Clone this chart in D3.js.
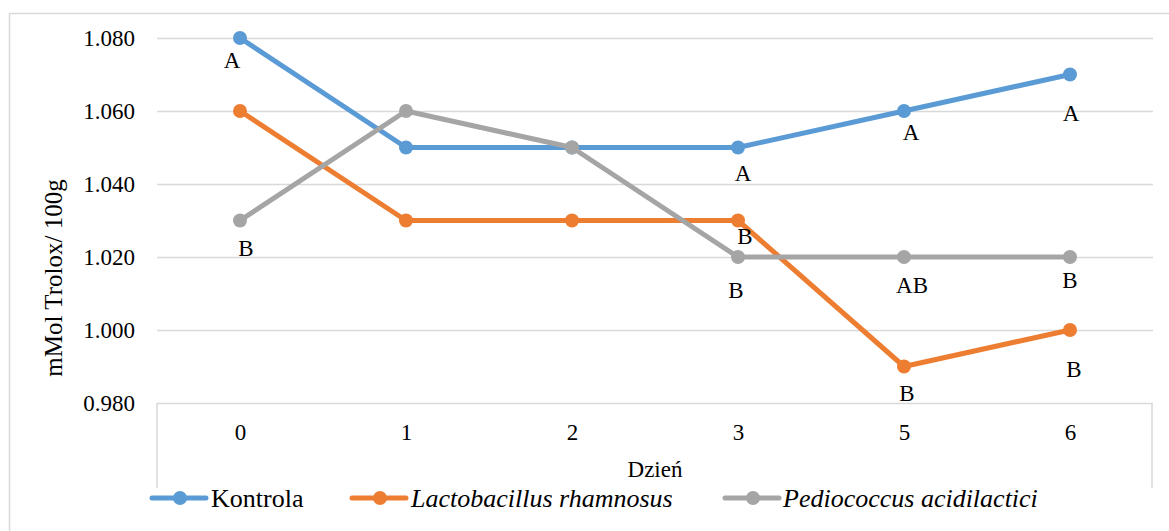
<!DOCTYPE html>
<html>
<head>
<meta charset="utf-8">
<script src="https://cdn.jsdelivr.net/npm/d3@7"></script>
<style>
  html, body { margin: 0; padding: 0; background: #fff; }
  svg { display: block; }
  svg text { font-family: "Liberation Serif", "Times New Roman", Times, serif; fill: #000; }
</style>
</head>
<body>
<svg id="chart" width="1169" height="531"></svg>
<script>
// Days of storage
const days = ["0", "1", "2", "3", "5", "6"];

// Antioxidant capacity, mMol Trolox / 100 g
const kontrola = [1.080, 1.050, 1.050, 1.050, 1.060, 1.070];
const lactobacillus = [1.060, 1.030, 1.030, 1.030, 0.990, 1.000];
const pediococcus = [1.030, 1.060, 1.050, 1.020, 1.020, 1.020];

// Significance letters for each point ("" = no label)
const kontrolaLetters = ["A", "", "", "A", "A", "A"];
const lactobacillusLetters = ["", "", "", "B", "B", "B"];
const pediococcusLetters = ["B", "", "", "B", "AB", "B"];

const seriesNames = ["Kontrola", "Lactobacillus rhamnosus", "Pediococcus acidilactici"];
const yTicks = [0.980, 1.000, 1.020, 1.040, 1.060, 1.080];

// Label nudges (pixels) relative to each marker
const labelNudge = [
  [[-8, 22], null, null, [5, 25], [7, 21], [1, 38]],
  [null, null, null, [7, 15], [3, 26], [4, 39]],
  [[6, 27], null, null, [-2, 33], [8, 28], [0, 23]]
];

const colors = ["#5B9BD5", "#ED7D31", "#A5A5A5"];
const italic = [false, true, true];

const series = [
  { name: seriesNames[0], values: kontrola, letters: kontrolaLetters },
  { name: seriesNames[1], values: lactobacillus, letters: lactobacillusLetters },
  { name: seriesNames[2], values: pediococcus, letters: pediococcusLetters }
];

const svg = d3.select("#chart");
const plot = { left: 157, right: 1153, top: 38, bottom: 403 };
const grid = "#D9D9D9";

// Outer chart frame
svg.append("rect")
  .attr("x", 9.5).attr("y", 13.5)
  .attr("width", 1200).attr("height", 600)
  .attr("fill", "none").attr("stroke", grid).attr("stroke-width", 1.5);

const x = d3.scalePoint().domain(days).range([plot.left, plot.right]).padding(0.5);
const y = d3.scaleLinear().domain([0.98, 1.08]).range([plot.bottom, plot.top]);

// Horizontal gridlines + value labels
const yAxis = svg.append("g")
  .attr("transform", `translate(${plot.left},0)`)
  .call(d3.axisLeft(y).tickValues(yTicks).tickFormat(d3.format(".3f"))
    .tickSize(-(plot.right - plot.left)).tickPadding(22))
  .attr("font-family", null).attr("font-size", null);
yAxis.select(".domain").remove();
yAxis.selectAll(".tick line").attr("stroke", grid).attr("stroke-width", 1.5);
yAxis.selectAll(".tick text").style("font-size", "23px");

// Category box under the plot
svg.append("path")
  .attr("d", `M${plot.left},${plot.bottom}V488M${plot.right - 1},${plot.bottom}V488`)
  .attr("stroke", grid).attr("stroke-width", 1.5).attr("fill", "none");

const xAxis = svg.append("g")
  .attr("transform", `translate(0,${plot.bottom})`)
  .call(d3.axisBottom(x).tickSize(0).tickPadding(21))
  .attr("font-family", null).attr("font-size", null);
xAxis.select(".domain").remove();
xAxis.selectAll(".tick text").style("font-size", "23px");

// Axis titles
svg.append("text")
  .attr("x", 655).attr("y", 477)
  .attr("text-anchor", "middle").style("font-size", "23px")
  .text("Dzień");

svg.append("text")
  .attr("transform", "translate(62,278) rotate(-90)")
  .attr("text-anchor", "middle").style("font-size", "25px")
  .text("mMol Trolox/ 100g");

// Lines, markers and letters
const line = d3.line().x((d, i) => x(days[i])).y(d => y(d));

series.forEach((s, si) => {
  const g = svg.append("g");
  g.append("path")
    .datum(s.values)
    .attr("d", line)
    .attr("fill", "none")
    .attr("stroke", colors[si])
    .attr("stroke-width", 5)
    .attr("stroke-linejoin", "round");
  g.selectAll("circle")
    .data(s.values)
    .join("circle")
    .attr("cx", (d, i) => x(days[i]))
    .attr("cy", d => y(d))
    .attr("r", 7)
    .attr("fill", colors[si]);
});

series.forEach((s, si) => {
  svg.append("g").selectAll("text")
    .data(s.values.map((v, i) => ({ v, i, t: s.letters[i] })).filter(d => d.t))
    .join("text")
    .attr("x", d => x(days[d.i]) + labelNudge[si][d.i][0])
    .attr("y", d => y(d.v) + labelNudge[si][d.i][1])
    .attr("dy", "0.35em")
    .attr("text-anchor", "middle")
    .style("font-size", "23px")
    .text(d => d.t);
});

// Legend
const legendItems = [
  { sx: 152, tx: 211 },
  { sx: 352, tx: 411 },
  { sx: 725, tx: 783 }
];
const legendY = 498;
series.forEach((s, si) => {
  const it = legendItems[si];
  const g = svg.append("g");
  g.append("line")
    .attr("x1", it.sx).attr("x2", it.sx + 54)
    .attr("y1", legendY).attr("y2", legendY)
    .attr("stroke", colors[si]).attr("stroke-width", 5)
    .attr("stroke-linecap", "round");
  g.append("circle")
    .attr("cx", it.sx + 28).attr("cy", legendY).attr("r", 7)
    .attr("fill", colors[si]);
  g.append("text")
    .attr("x", it.tx).attr("y", legendY + 9)
    .style("font-size", "26px")
    .style("font-style", italic[si] ? "italic" : "normal")
    .text(s.name);
});
</script>
</body>
</html>
